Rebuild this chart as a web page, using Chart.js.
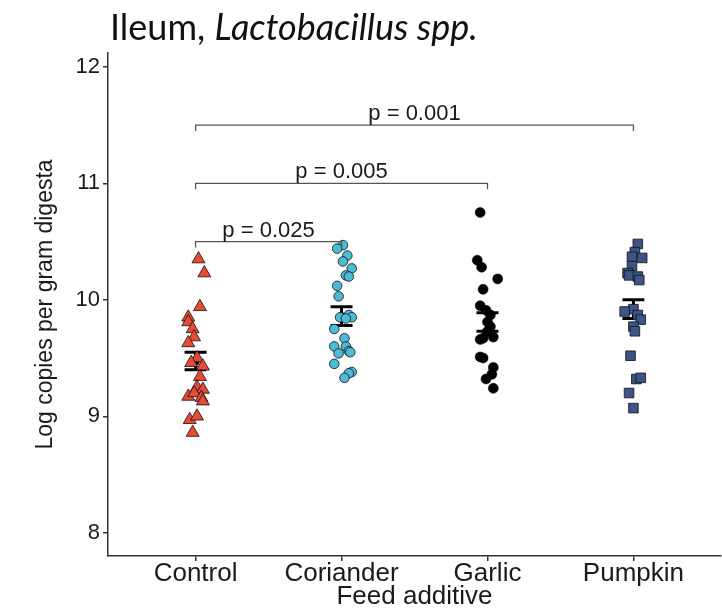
<!DOCTYPE html>
<html>
<head>
<meta charset="utf-8">
<script src="https://cdn.jsdelivr.net/npm/chart.js@4.4.1/dist/chart.umd.min.js"></script>
<style>
  html, body { margin: 0; padding: 0; background: #fff; overflow: hidden; }
  #wrap { position: relative; width: 722px; height: 610px; }
  #chart { position: absolute; left: 0; top: 0; }
  #title {
    position: absolute; left: 110px; top: 8px;
    font-family: Lato, "Open Sans", sans-serif; font-size: 36px; line-height: 1;
    color: #111; white-space: nowrap;
  }
</style>
</head>
<body>
<div id="wrap">
  <canvas id="chart" width="722" height="610"></canvas>
  <div id="title">Ileum, <i>Lactobacillus spp.</i></div>
</div>
<script>
'use strict';

// Data
const categories = ['Control', 'Coriander', 'Garlic', 'Pumpkin'];

const controlValues = [10.35, 10.23, 9.94, 9.85, 9.81, 9.75, 9.68, 9.63, 9.50, 9.46, 9.43,
    9.34, 9.25, 9.23, 9.17, 9.20, 9.16, 9.13, 8.97, 9.00, 8.86];
const controlJitter = [0.02, 0.06, 0.03, -0.05, -0.05, -0.02, -0.01, -0.05, 0.01, -0.03, 0.05,
    0.03, 0.01, 0.05, -0.05, -0.01, 0.04, 0.05, -0.04, 0.01, -0.02];

const corianderValues = [10.47, 10.44, 10.38, 10.33, 10.27, 10.21, 10.20, 10.12, 10.03, 9.87, 9.85,
    9.85, 9.84, 9.75, 9.67, 9.60, 9.60, 9.56, 9.54, 9.55, 9.45, 9.38, 9.37, 9.33];
const corianderJitter = [0.01, -0.03, 0.04, 0.01, 0.07, 0.03, 0.05, -0.03, -0.02, 0.05, -0.01,
    0.07, 0.03, -0.05, 0.02, -0.05, 0.03, 0.05, -0.02, 0.06, -0.05, 0.07, 0.05, 0.02];

const garlicValues = [10.75, 10.34, 10.28, 10.18, 10.09, 9.95, 9.91, 9.87, 9.81, 9.77, 9.73,
    9.67, 9.68, 9.66, 9.51, 9.50, 9.42, 9.36, 9.32, 9.24];
const garlicJitter = [-0.05, -0.07, -0.04, 0.07, -0.03, -0.05, -0.01, 0.02, 0, 0.02, 0,
    -0.03, 0.04, -0.05, -0.05, -0.03, 0.04, 0.03, -0.01, 0.04];

const pumpkinValues = [10.48, 10.41, 10.37, 10.36, 10.29, 10.23, 10.21, 10.20, 10.17, 9.92, 9.90,
    9.87, 9.83, 9.77, 9.73, 9.52, 9.32, 9.33, 9.20, 9.07];
const pumpkinJitter = [0.03, 0.01, -0.01, 0.06, -0.01, -0.04, -0.03, 0.03, 0.04, 0, -0.06,
    0.03, 0.05, 0, 0.01, -0.02, 0.02, 0.05, -0.03, 0];

// mean +/- SE per group
const meanValues = [9.47, 9.86, 9.81, 9.92];
const seLow = [9.40, 9.78, 9.73, 9.84];
const seHigh = [9.55, 9.94, 9.89, 10.00];

// significance brackets
const bracketFrom = [0, 0, 0];
const bracketTo = [1, 2, 3];
const bracketHeights = [10.5, 11.0, 11.5];
const bracketLabels = ['p = 0.025', 'p = 0.005', 'p = 0.001'];

const yTicks = [8, 9, 10, 11, 12];

const FONT = '"Liberation Sans", Arial, sans-serif';
const INK = '#1a1a1a';

function toPoints(values, jitter, index) {
    return values.map((v, i) => ({ x: index + jitter[i], y: v }));
}

const errorBarPlugin = {
    id: 'errorBars',
    beforeDatasetsDraw(chart) {
        const { ctx, scales: { x, y } } = chart;
        ctx.save();
        ctx.strokeStyle = '#000';
        ctx.fillStyle = '#000';
        ctx.lineWidth = 3;
        meanValues.forEach((m, i) => {
            const px = x.getPixelForValue(i);
            const top = y.getPixelForValue(seHigh[i]);
            const bot = y.getPixelForValue(seLow[i]);
            ctx.beginPath();
            ctx.moveTo(px, top); ctx.lineTo(px, bot);
            ctx.moveTo(px - 11, top); ctx.lineTo(px + 11, top);
            ctx.moveTo(px - 11, bot); ctx.lineTo(px + 11, bot);
            ctx.stroke();
            ctx.beginPath();
            ctx.arc(px, y.getPixelForValue(m), 4, 0, Math.PI * 2);
            ctx.fill();
        });
        ctx.restore();
    }
};

const bracketPlugin = {
    id: 'brackets',
    afterDatasetsDraw(chart) {
        const { ctx, scales: { x, y } } = chart;
        ctx.save();
        ctx.strokeStyle = '#555';
        ctx.lineWidth = 1.3;
        ctx.fillStyle = INK;
        ctx.font = '22px ' + FONT;
        ctx.textAlign = 'center';
        ctx.textBaseline = 'alphabetic';
        bracketHeights.forEach((h, i) => {
            const x1 = x.getPixelForValue(bracketFrom[i]);
            const x2 = x.getPixelForValue(bracketTo[i]);
            const py = y.getPixelForValue(h);
            const drop = y.getPixelForValue(h - 0.05);
            ctx.beginPath();
            ctx.moveTo(x1, drop); ctx.lineTo(x1, py);
            ctx.lineTo(x2, py); ctx.lineTo(x2, drop);
            ctx.stroke();
            ctx.fillText(bracketLabels[i], (x1 + x2) / 2, py - 5);
        });
        ctx.restore();
    }
};

const pointBorder = { borderColor: '#111', borderWidth: 0.8 };

new Chart(document.getElementById('chart'), {
    type: 'scatter',
    data: {
        datasets: [
            { label: 'Control', data: toPoints(controlValues, controlJitter, 0),
              pointStyle: 'triangle', pointRadius: 7.5, backgroundColor: '#E64B35', ...pointBorder },
            { label: 'Coriander', data: toPoints(corianderValues, corianderJitter, 1),
              pointStyle: 'circle', pointRadius: 4.8, backgroundColor: '#4DBBD5', ...pointBorder },
            { label: 'Garlic', data: toPoints(garlicValues, garlicJitter, 2),
              pointStyle: 'circle', pointRadius: 5, backgroundColor: '#000', borderColor: '#000', borderWidth: 0.5 },
            { label: 'Pumpkin', data: toPoints(pumpkinValues, pumpkinJitter, 3),
              pointStyle: 'rect', pointRadius: 6.8, backgroundColor: '#3C5488', ...pointBorder }
        ]
    },
    options: {
        responsive: false,
        animation: false,
        events: [],
        layout: { autoPadding: false, padding: { top: 53, right: 1, bottom: 0, left: 0 } },
        plugins: {
            legend: { display: false },
            tooltip: { enabled: false }
        },
        scales: {
            x: {
                type: 'linear',
                min: -0.6,
                max: 3.6,
                afterBuildTicks: (s) => { s.ticks = categories.map((_, i) => ({ value: i })); },
                afterFit: (s) => { s.height = 54; s.paddingLeft = 0; s.paddingRight = 0; },
                ticks: {
                    callback: (v) => categories[v] ?? '',
                    font: { family: FONT, size: 26, lineHeight: 1 },
                    color: INK,
                    padding: 0,
                    maxRotation: 0,
                    autoSkip: false
                },
                grid: { drawOnChartArea: false, tickLength: 5, color: '#333', lineWidth: 1.5 },
                border: { color: '#333', width: 1.5 },
                title: {
                    display: true, text: 'Feed additive', color: INK,
                    font: { family: FONT, size: 26, lineHeight: 1 }, padding: { top: 0, bottom: 0 }
                }
            },
            y: {
                min: 7.8,
                max: 12.12,
                afterBuildTicks: (s) => { s.ticks = yTicks.map(v => ({ value: v })); },
                afterFit: (s) => { s.width = 108; },
                ticks: {
                    font: { family: FONT, size: 22 },
                    color: INK,
                    padding: 3
                },
                grid: { drawOnChartArea: false, tickLength: 5, color: '#333', lineWidth: 1.5 },
                border: { color: '#333', width: 1.5 },
                title: {
                    display: true, text: 'Log copies per gram digesta', color: INK,
                    font: { family: FONT, size: 23 }, padding: { top: 32, bottom: 0 }
                }
            }
        }
    },
    plugins: [errorBarPlugin, bracketPlugin]
});
</script>
</body>
</html>
